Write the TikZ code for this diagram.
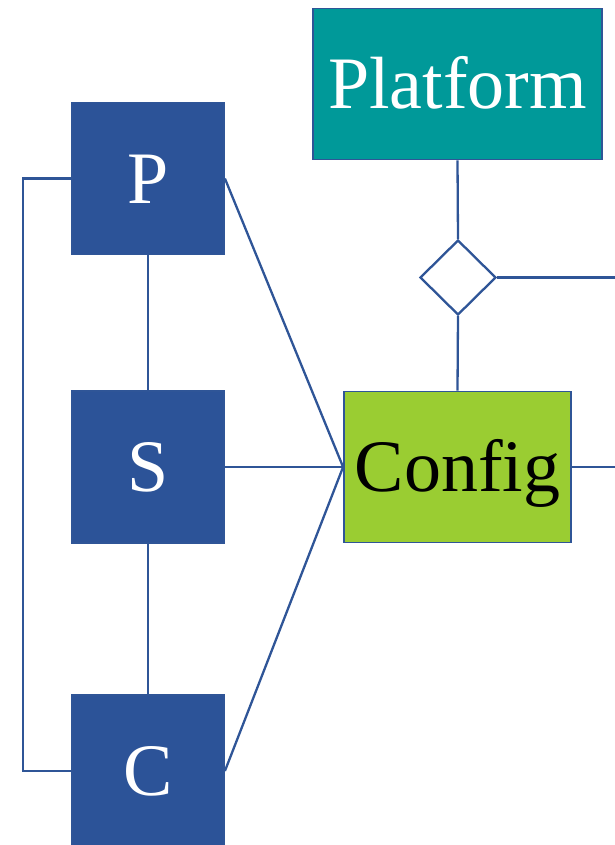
\documentclass[tikz,border=0pt]{standalone}
\usepackage{fontspec}
\setmainfont{Liberation Serif}
\usetikzlibrary{shapes.geometric}
\definecolor{linkblue}{HTML}{2F5597}
\definecolor{roleblue}{HTML}{2C5398}
\definecolor{teal}{HTML}{009999}
\definecolor{leafgreen}{HTML}{9ACD32}
\tikzset{
  link/.style={draw=linkblue, line width=2.3pt},
  box/.style={rectangle, draw=linkblue, line width=1.8pt, inner sep=0pt,
    font=\fontsize{74}{74}\selectfont, text height=49pt, text depth=0pt},
  rolebox/.style={box, fill=roleblue, text=white, minimum width=152pt, minimum height=152pt},
  platbox/.style={box, fill=teal, text=white, minimum width=289pt, minimum height=151pt},
  confbox/.style={box, fill=leafgreen, text=black, minimum width=227pt, minimum height=151pt},
  gate/.style={diamond, draw=linkblue, line width=2.3pt, fill=white, inner sep=0pt,
    minimum width=76pt, minimum height=75pt},
}
\begin{document}
\begin{tikzpicture}[x=1pt, y=-1pt]
  \useasboundingbox (0,0) rectangle (615,845);
  \clip (0,0) rectangle (615,845);

  % boxes
  \node[platbox] (plat) at (457.5,84) {Platform};
  \node[gate] (gate) at (458,277.5) {};
  \node[confbox] (conf) at (457.5,467) {Config};
  \node[rolebox] (p) at (148,178.5) {P};
  \node[rolebox] (s) at (148,467) {S};
  \node[rolebox] (c) at (148,771) {C};

  % loose ends at the right edge
  \coordinate (gateout) at (615,277.5);
  \coordinate (confout) at (615,467);

  % connectors
  \draw[link] (plat.south) -- (gate.north);
  \draw[link] (gate.south) -- (conf.north);
  \draw[link] (gate.east) -- (gateout);
  \draw[link] (conf.east) -- (confout);
  \draw[link] (p.east) -- (conf.west);
  \draw[link] (s.east) -- (conf.west);
  \draw[link] (c.east) -- (conf.west);
  \draw[link] (p.south) -- (s.north);
  \draw[link] (s.south) -- (c.north);
  \draw[link] (p.west) -- ++(-48,0) |- (c.west);
\end{tikzpicture}
\end{document}
